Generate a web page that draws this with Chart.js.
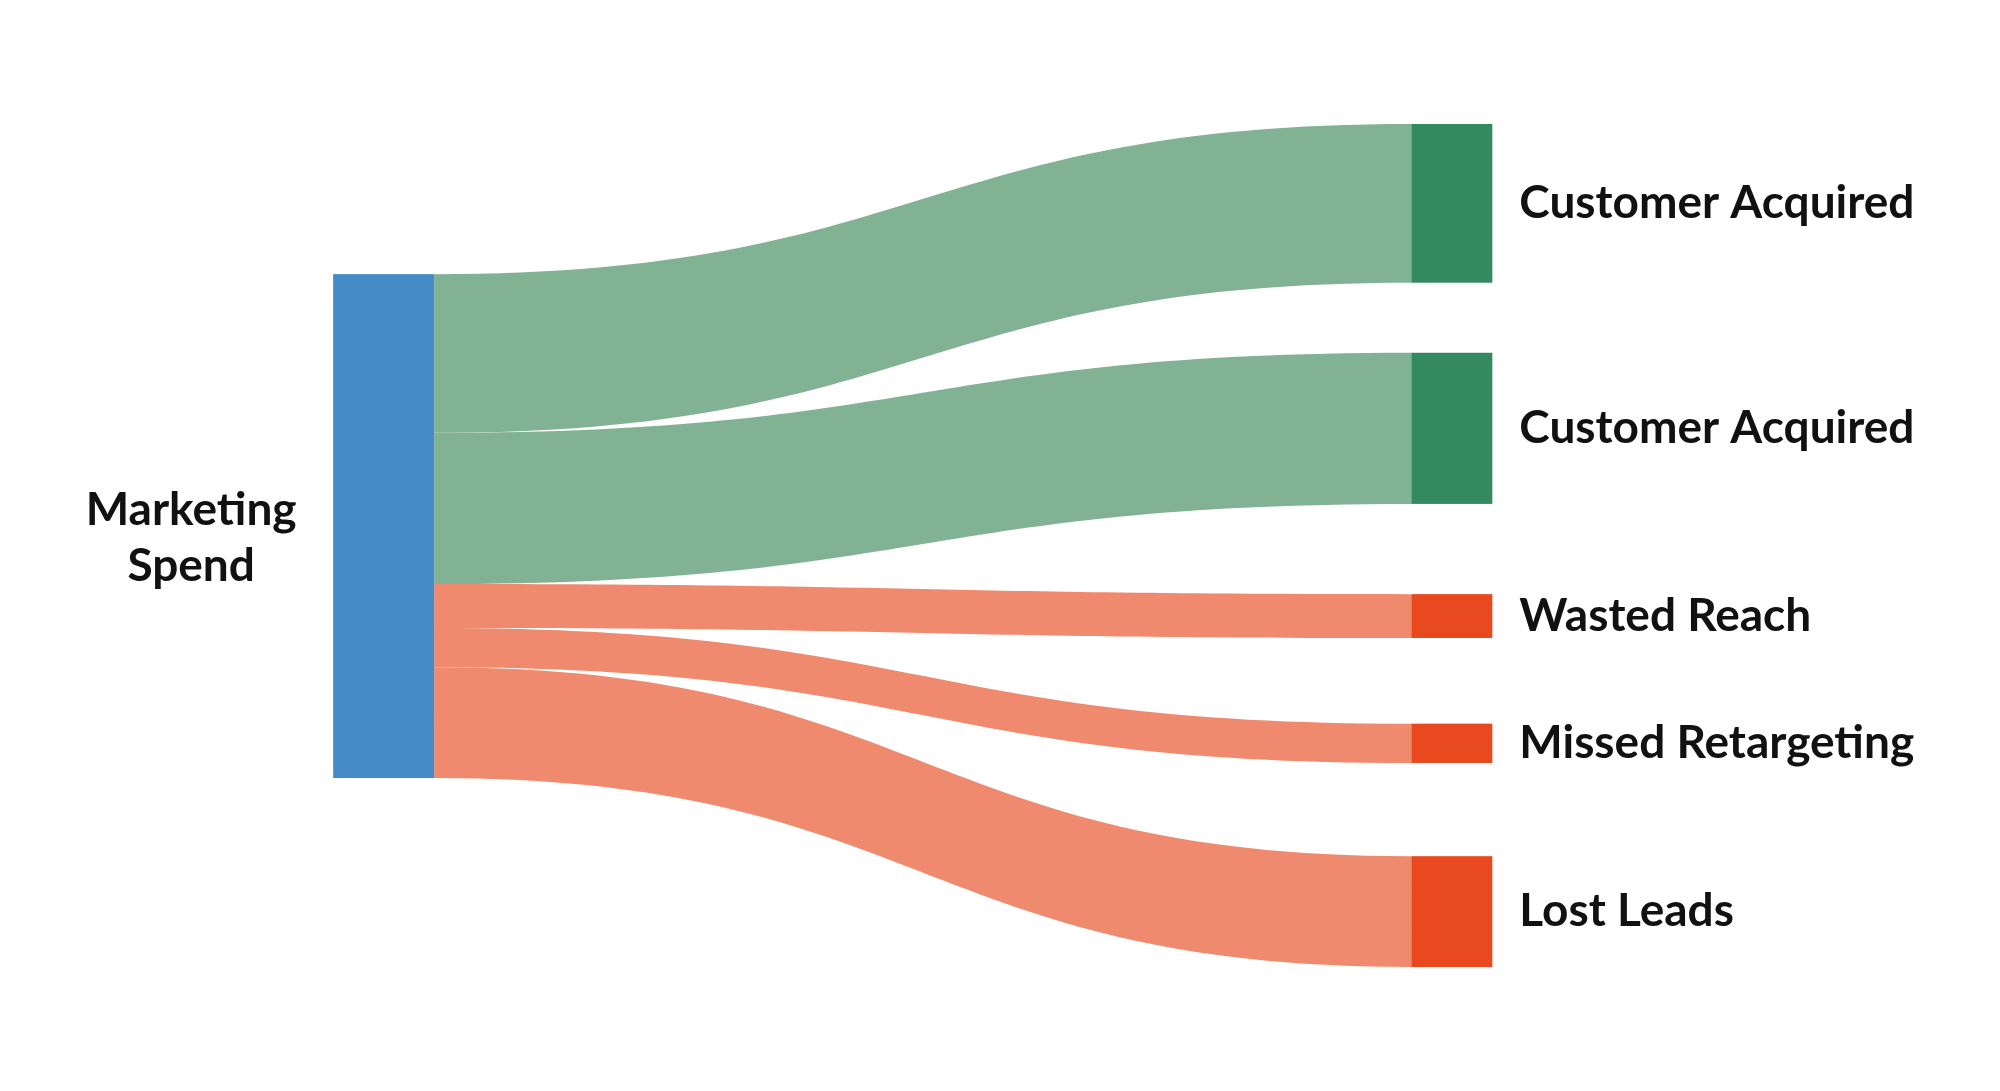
<!DOCTYPE html>
<html>
<head>
<meta charset="utf-8">
<script src="https://cdn.jsdelivr.net/npm/chart.js@4.4.1/dist/chart.umd.min.js"></script>
<style>
  html, body { margin: 0; padding: 0; background: #ffffff; }
  #wrap { width: 2000px; height: 1091px; }
</style>
</head>
<body>
<div id="wrap"><canvas id="sankeyChart"></canvas></div>
<script>
// ---- data ----
const sourceLabel = ["Marketing", "Spend"];
const targetLabels = ["Customer Acquired", "Customer Acquired", "Wasted Reach", "Missed Retargeting", "Lost Leads"];
const flowValues = [31.5, 30, 8.7, 7.8, 22];
const flowKinds = ["gain", "gain", "loss", "loss", "loss"];

// ---- layout (y axis units) ----
const targetTop = -29.8;
const targetGaps = [13.9, 17.9, 17.0, 18.5];

const colors = {
  source: "#448bc8",
  gainNode: "#348a5f",
  gainLink: "#82b294",
  lossNode: "#e8491e",
  lossLink: "#ef8a6e"
};

const sankeyPlugin = {
  id: "sankey",
  afterDraw(chart) {
    const { ctx, scales: { x, y } } = chart;
    const srcW = 101, tgtW = 81;
    const xs = x.getPixelForValue(0);
    const xt = x.getPixelForValue(1);
    const xa = xs + srcW;
    const xm = (xa + xt) / 2;

    // stack positions
    let sCursor = 0;
    let tCursor = targetTop;
    const flows = flowValues.map((v, i) => {
      if (i > 0) tCursor += targetGaps[i - 1];
      const f = { s0: sCursor, s1: sCursor + v, t0: tCursor, t1: tCursor + v };
      sCursor += v;
      tCursor += v;
      return f;
    });

    ctx.save();

    // links
    flows.forEach((f, i) => {
      const sTop = y.getPixelForValue(f.s0), sBot = y.getPixelForValue(f.s1);
      const tTop = y.getPixelForValue(f.t0), tBot = y.getPixelForValue(f.t1);
      ctx.beginPath();
      ctx.moveTo(xa, sTop);
      ctx.bezierCurveTo(xm, sTop, xm, tTop, xt, tTop);
      ctx.lineTo(xt, tBot);
      ctx.bezierCurveTo(xm, tBot, xm, sBot, xa, sBot);
      ctx.closePath();
      ctx.fillStyle = flowKinds[i] === "gain" ? colors.gainLink : colors.lossLink;
      ctx.fill();
    });

    // source node
    const total = flowValues.reduce((a, b) => a + b, 0);
    const srcTop = y.getPixelForValue(0), srcBot = y.getPixelForValue(total);
    ctx.fillStyle = colors.source;
    ctx.fillRect(xs, srcTop, srcW, srcBot - srcTop);

    // target nodes + labels
    ctx.font = "700 46px Lato";
    ctx.textBaseline = "middle";
    ctx.textAlign = "left";
    flows.forEach((f, i) => {
      const tTop = y.getPixelForValue(f.t0), tBot = y.getPixelForValue(f.t1);
      ctx.fillStyle = flowKinds[i] === "gain" ? colors.gainNode : colors.lossNode;
      ctx.fillRect(xt, tTop, tgtW, tBot - tTop);
      ctx.fillStyle = "#111111";
      ctx.fillText(targetLabels[i], xt + tgtW + 27, (tTop + tBot) / 2);
    });

    // source label
    const srcMid = (srcTop + srcBot) / 2;
    ctx.textAlign = "center";
    ctx.fillText(sourceLabel[0], xs - 142, srcMid - 16);
    ctx.fillText(sourceLabel[1], xs - 142, srcMid + 40);

    ctx.restore();
  }
};

new Chart(document.getElementById("sankeyChart"), {
  type: "scatter",
  data: { datasets: [{ data: [], pointRadius: 0 }] },
  options: {
    responsive: true,
    maintainAspectRatio: false,
    animation: false,
    layout: { padding: 0 },
    plugins: {
      legend: { display: false },
      tooltip: { enabled: false }
    },
    scales: {
      x: { type: "linear", min: -0.309, max: 1.546, display: false },
      y: { type: "linear", reverse: true, min: -54.4, max: 162.1, display: false }
    }
  },
  plugins: [sankeyPlugin]
});
</script>
</body>
</html>
